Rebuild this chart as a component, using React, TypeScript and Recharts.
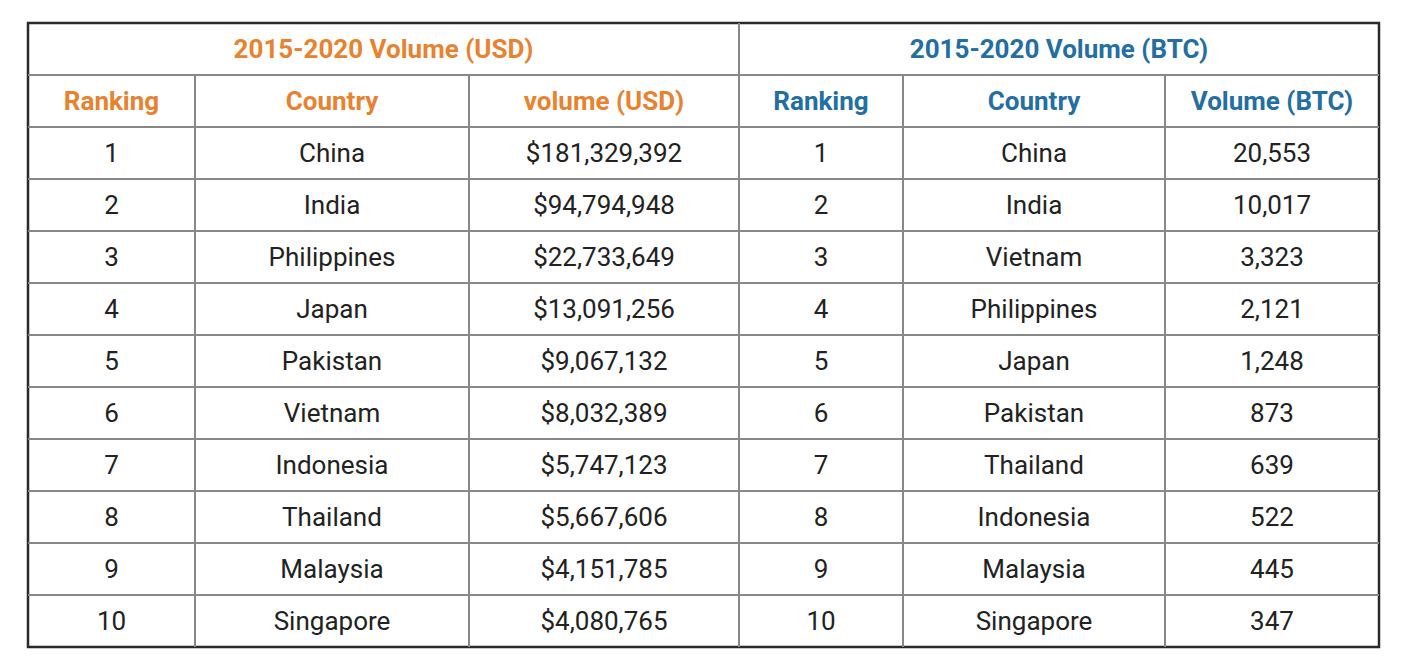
import React from "react";
import { ScatterChart, Scatter, XAxis, YAxis, ReferenceLine, ReferenceArea } from "recharts";

// --- Data ---

const RANKS = ["1", "2", "3", "4", "5", "6", "7", "8", "9", "10"];

const USD_COUNTRIES = [
  "China", "India", "Philippines", "Japan", "Pakistan",
  "Vietnam", "Indonesia", "Thailand", "Malaysia", "Singapore",
];
const USD_VOLUMES = [
  "$181,329,392", "$94,794,948", "$22,733,649", "$13,091,256", "$9,067,132",
  "$8,032,389", "$5,747,123", "$5,667,606", "$4,151,785", "$4,080,765",
];

const BTC_COUNTRIES = [
  "China", "India", "Vietnam", "Philippines", "Japan",
  "Pakistan", "Thailand", "Indonesia", "Malaysia", "Singapore",
];
const BTC_VOLUMES = [
  "20,553", "10,017", "3,323", "2,121", "1,248",
  "873", "639", "522", "445", "347",
];

const GROUP_TITLES = ["2015-2020 Volume (USD)", "2015-2020 Volume (BTC)"];
const COLUMN_TITLES = ["Ranking", "Country", "volume (USD)", "Ranking", "Country", "Volume (BTC)"];

// --- Layout ---

// column edges in table units (left half = USD, right half = BTC)
const COL_EDGES = [0, 167, 441, 711, 875, 1137, 1351];
const ROWS = 12;

const ORANGE = "#e8822f";
const BLUE = "#236ea2";
const TEXT = "#222222";
const GRID = "#888888";
const BORDER = "#2a2a2a";

interface Cell {
  x: number;
  y: number;
  text: string;
  color: string;
  bold: boolean;
}

const colCenter = (i: number) => (COL_EDGES[i] + COL_EDGES[i + 1]) / 2;

function buildCells(): Cell[] {
  const cells: Cell[] = [];
  GROUP_TITLES.forEach((t, g) => {
    cells.push({
      x: (COL_EDGES[g * 3] + COL_EDGES[g * 3 + 3]) / 2,
      y: 0.5,
      text: t,
      color: g === 0 ? ORANGE : BLUE,
      bold: true,
    });
  });
  COLUMN_TITLES.forEach((t, i) => {
    cells.push({ x: colCenter(i), y: 1.5, text: t, color: i < 3 ? ORANGE : BLUE, bold: true });
  });
  const cols = [RANKS, USD_COUNTRIES, USD_VOLUMES, RANKS, BTC_COUNTRIES, BTC_VOLUMES];
  cols.forEach((col, i) => {
    col.forEach((t, r) => {
      cells.push({ x: colCenter(i), y: r + 2.5, text: t, color: TEXT, bold: false });
    });
  });
  return cells;
}

const CELLS = buildCells();

function CellText(props: any) {
  const { cx, cy, payload } = props;
  return (
    <text
      x={cx}
      y={cy}
      textAnchor="middle"
      dominantBaseline="central"
      fill={payload.color}
      fontSize={26}
      fontWeight={payload.bold ? 700 : 400}
      fontFamily="Roboto, sans-serif"
    >
      {payload.text}
    </text>
  );
}

export default function App() {
  const hLines = Array.from({ length: ROWS - 1 }, (_, i) => i + 1);
  const innerV = [COL_EDGES[1], COL_EDGES[2], COL_EDGES[4], COL_EDGES[5]];
  return (
    <div style={{ width: 1400, height: 660, background: "#fff" }}>
      <ScatterChart width={1400} height={660} margin={{ top: 15, right: 29, bottom: 21, left: 20 }}>
        <XAxis type="number" dataKey="x" domain={[0, COL_EDGES[6]]} hide allowDataOverflow />
        <YAxis type="number" dataKey="y" domain={[0, ROWS]} reversed hide allowDataOverflow />
        {hLines.map((y) => (
          <ReferenceLine key={`h${y}`} y={y} stroke={GRID} strokeWidth={2} ifOverflow="visible" />
        ))}
        {innerV.map((x) => (
          <ReferenceLine
            key={`v${x}`}
            segment={[{ x, y: 1 }, { x, y: ROWS }]}
            stroke={GRID}
            strokeWidth={2}
            ifOverflow="visible"
          />
        ))}
        <ReferenceLine x={COL_EDGES[3]} stroke={GRID} strokeWidth={2} ifOverflow="visible" />
        <ReferenceArea
          x1={0}
          x2={COL_EDGES[6]}
          y1={0}
          y2={ROWS}
          fill="none"
          fillOpacity={0}
          stroke={BORDER}
          strokeWidth={2.5}
          ifOverflow="visible"
        />
        <Scatter data={CELLS} shape={<CellText />} isAnimationActive={false} />
      </ScatterChart>
    </div>
  );
}
